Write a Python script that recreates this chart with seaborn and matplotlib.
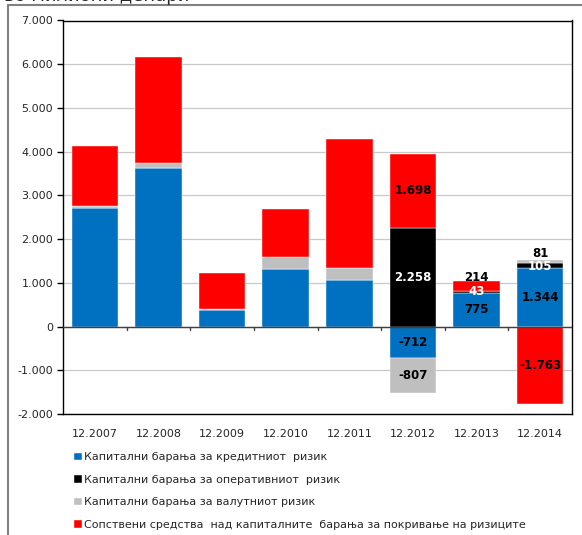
import numpy as np
import pandas as pd
import matplotlib
matplotlib.use("Agg")
import matplotlib.pyplot as plt
import seaborn as sns
from matplotlib.ticker import FuncFormatter

years = ["12.2007", "12.2008", "12.2009", "12.2010", "12.2011", "12.2012", "12.2013", "12.2014"]
credit = [2720, 3620, 390, 1320, 1070, -712, 775, 1344]
operational = [0, 0, 0, 0, 0, 2258, 43, 105]
currency = [30, 130, 20, 260, 270, -807, 0, 81]
surplus = [1370, 2420, 820, 1100, 2950, 1698, 214, -1763]

series_names = [
    "Капитални барања за кредитниот  ризик",
    "Капитални барања за оперативниот  ризик",
    "Капитални барања за валутниот ризик",
    "Сопствени средства  над капиталните  барања за покривање на ризиците",
]
colors = ["#0070C0", "#000000", "#BFBFBF", "#FF0000"]
label_colors = ["black", "white", "black", "black"]
labelled_years = ["12.2012", "12.2013", "12.2014"]

sns.set_theme(style="white")
plt.rcParams["font.family"] = ["DejaVu Sans"]

fig = plt.figure(figsize=(5.82, 5.35), dpi=100)
ax = fig.add_axes([63 / 582, 1 - 414 / 535, (572 - 63) / 582, (414 - 20.5) / 535])

values = [credit, operational, currency, surplus]
pos_base = np.zeros(len(years))
neg_base = np.zeros(len(years))
for name, vals, col, lcol in zip(series_names, values, colors, label_colors):
    vals = np.array(vals, dtype=float)
    bottom = np.where(vals >= 0, pos_base, neg_base)
    df = pd.DataFrame({"year": years, "value": vals})
    sns.barplot(data=df, x="year", y="value", color=col, bottom=bottom,
                width=0.73, saturation=1, ax=ax, label=name,
                edgecolor="white", linewidth=0.3)
    for i, y in enumerate(years):
        v = vals[i]
        if y in labelled_years and v != 0:
            ypos = bottom[i] + v / 2
            # small segments: label placed just above the segment
            if y == "12.2013" and name == series_names[3]:
                ypos = bottom[i] + v + 80
            if y == "12.2014" and name == series_names[2]:
                ypos = bottom[i] + v + 140
            if y == "12.2014" and name == series_names[1]:
                ypos = bottom[i] + v / 2 - 30
            txt = f"{v:,.0f}".replace(",", ".")
            ax.text(i, ypos, txt, ha="center", va="center", fontsize=8.5,
                    fontweight="bold", color=lcol)
    pos_base = pos_base + np.where(vals >= 0, vals, 0)
    neg_base = neg_base + np.where(vals < 0, vals, 0)

ax.set_ylim(-2000, 7000)
ax.set_xlim(-0.5, len(years) - 0.5)
ax.set_yticks(np.arange(-2000, 7001, 1000))
ax.yaxis.set_major_formatter(FuncFormatter(lambda v, p: f"{v:,.0f}".replace(",", ".")))
ax.yaxis.grid(True, color="#C8C8C8", linewidth=0.9)
ax.set_axisbelow(True)
ax.set_xlabel("")
ax.set_ylabel("")
for s in ax.spines.values():
    s.set_color("black")
    s.set_linewidth(1.0)
ax.axhline(0, color="#404040", linewidth=1.0, zorder=3)
for i in range(len(years) - 1):
    ax.plot([i + 0.5, i + 0.5], [0, -80], color="#404040", linewidth=1.0, zorder=3)
ax.tick_params(axis="y", which="both", left=True, length=4, width=1, color="black",
               labelsize=8, pad=3)
ax.tick_params(axis="x", bottom=False, labelsize=8, pad=5)

handles, labels = ax.get_legend_handles_labels()
if ax.get_legend() is not None:
    ax.get_legend().remove()
fig.legend(handles, labels, loc="upper left", bbox_to_anchor=(70 / 582, 1 - 448 / 535),
           frameon=False, fontsize=8, handlelength=0.7, handleheight=0.7,
           handletextpad=0.2, labelspacing=1.12, borderaxespad=0)

# chart border
fig.add_artist(plt.Line2D([8 / 582, 8 / 582], [0, 1 - 5 / 535], transform=fig.transFigure,
                          color="#808080", linewidth=1.5))
fig.add_artist(plt.Line2D([8 / 582, 1], [1 - 5 / 535, 1 - 5 / 535], transform=fig.transFigure,
                          color="#808080", linewidth=1.5))
fig.text(4 / 582, 1 + 4 / 535, "во милиони денари", fontsize=13, ha="left", va="center")

fig.savefig("out.png", dpi=100)
